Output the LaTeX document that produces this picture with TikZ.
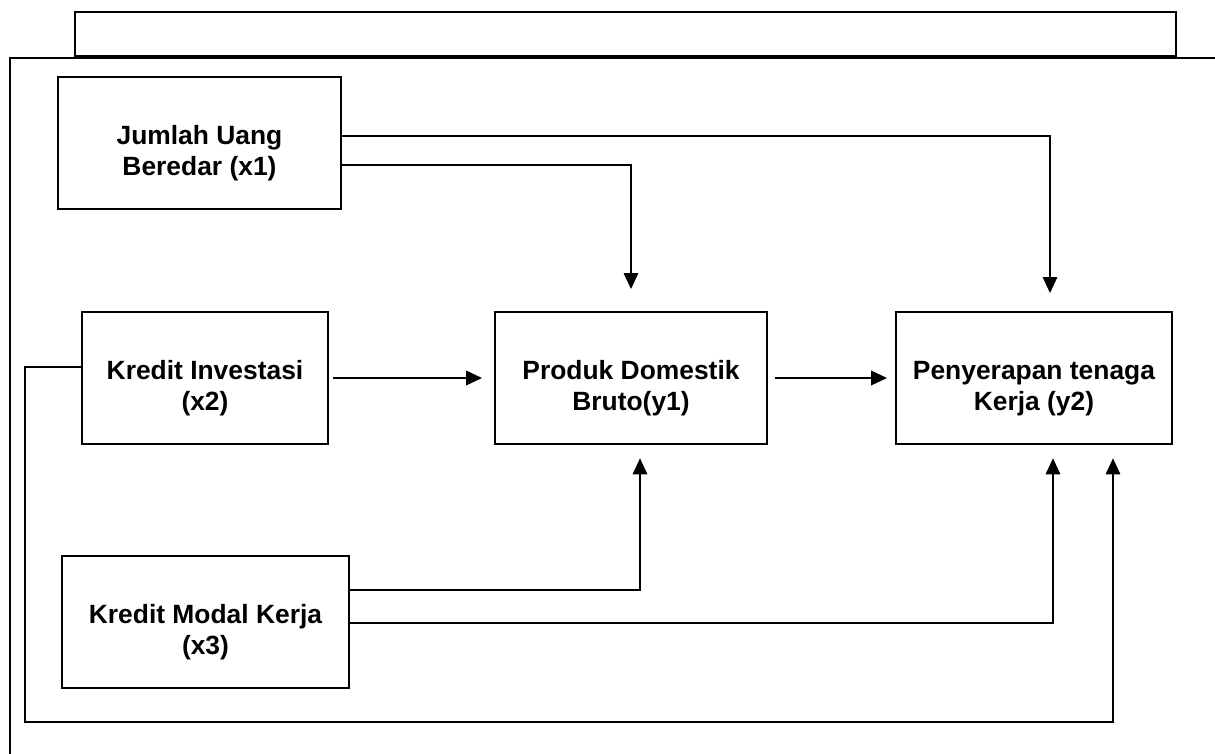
\documentclass[tikz,border=0pt]{standalone}
\usepackage{fontspec}
\setmainfont{Liberation Sans}
\usepackage{tikz}
\usetikzlibrary{positioning,arrows.meta,calc}
\tikzset{
  varbox/.style={rectangle,draw=black,line width=1.5pt,align=center,
                 minimum height=99pt,inner sep=2pt,
                 font=\fontsize{19.8}{23.25}\selectfont\bfseries},
  link/.style={-{Triangle[length=12pt,width=11pt]},line width=1.2pt,
               line join=miter},
  wire/.style={link,line width=0.8pt},
}
\newcommand{\topgap}{\rule{0pt}{29pt}}

\begin{document}
\begin{tikzpicture}[x=0.75pt,y=-0.75pt,
    frame/.style={line width=1.5pt},
    titlebox/.style={draw,line width=2pt,minimum width=825.75pt,
                     minimum height=33pt,inner sep=0pt},
  ]
\useasboundingbox (0,0) rectangle (1215,754);
\node[titlebox] (judul) at (625.5,34) {};
\draw[frame] (10,754) -- (10,58) -- (1215,58);
\node[varbox, minimum width=212.25pt] (uang)      at (199.5,143) {\topgap Jumlah Uang\\Beredar (x1)};
\node[varbox, minimum width=184.5pt]  (investasi) at (205,378)   {\topgap Kredit Investasi\\(x2)};
\node[varbox, minimum width=215.25pt] (modal)     at (205.5,622) {\topgap Kredit Modal Kerja\\(x3)};
\node[varbox, minimum width=204pt]    (pdb)       at (631,378)   {\topgap Produk Domestik\\Bruto(y1)};
\node[varbox, minimum width=207pt]    (tenaga)    at (1034,378)  {\topgap Penyerapan tenaga\\Kerja (y2)};
\coordinate (bawah) at (25,722);
\draw[wire, shorten >=13.5pt] ([yshift=5.25pt]uang.east) -| ([xshift=12pt]tenaga.north);
\draw[wire, shorten >=16.5pt] ([yshift=-16.5pt]uang.east) -| (pdb.north);
\draw[link, shorten >=9pt] ([xshift=3pt]investasi.east) -- (pdb.west);
\draw[link, shorten >=6pt] ([xshift=5pt]pdb.east) -- (tenaga.west);
\draw[wire, shorten >=10pt] ([yshift=24pt]modal.east) -| ([xshift=6.75pt]pdb.south);
\draw[wire, shorten >=10pt] ([yshift=-0.75pt]modal.east) -| ([xshift=14.25pt]tenaga.south);
\draw[wire, shorten >=10pt] ([yshift=8.25pt]investasi.west) -| (bawah) -| ([xshift=59.25pt]tenaga.south);
\end{tikzpicture}
\end{document}
